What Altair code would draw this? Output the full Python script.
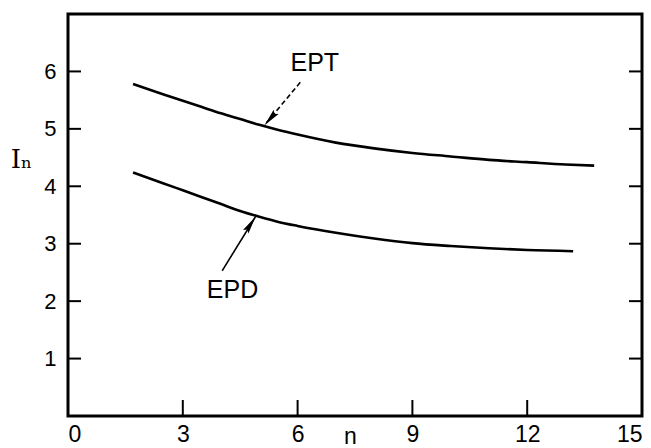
import altair as alt
import pandas as pd

# Data
ept_n = [1.7, 2.5, 3.0, 3.5, 4.0, 4.5, 5.0, 5.5, 6.0, 7.0, 8.0, 9.0, 10.0, 11.0, 12.0, 13.0, 13.75]
ept_i = [5.78, 5.60, 5.49, 5.38, 5.27, 5.17, 5.07, 4.98, 4.90, 4.76, 4.66, 4.58, 4.52, 4.46, 4.42, 4.38, 4.36]
epd_n = [1.7, 2.5, 3.0, 3.5, 4.0, 4.5, 5.0, 5.5, 6.0, 7.0, 8.0, 9.0, 10.0, 11.0, 12.0, 13.2]
epd_i = [4.24, 4.05, 3.93, 3.81, 3.69, 3.57, 3.47, 3.38, 3.31, 3.19, 3.09, 3.01, 2.96, 2.92, 2.89, 2.87]

x_ticks = [0, 3, 6, 9, 12, 15]
y_ticks = [1, 2, 3, 4, 5, 6]
x_inner_ticks = [3, 6, 9, 12]

labels = ["EPT", "EPD"]
label_n = [6.45, 4.3]
label_i = [6.14, 2.2]
arrow_from_n = [6.07, 4.03]
arrow_from_i = [5.81, 2.53]
arrow_to_n = [5.13, 4.9]
arrow_to_i = [5.06, 3.47]
arrow_angle = [221, 33]
arrow_style = ["dashed", "solid"]

W, H = 574, 402

curves = pd.concat([
    pd.DataFrame({"n": ept_n, "I": ept_i, "s": "EPT"}),
    pd.DataFrame({"n": epd_n, "I": epd_i, "s": "EPD"}),
])

xs = alt.Scale(domain=[0, 15], nice=False, zero=False)
ys = alt.Scale(domain=[0, 7], nice=False, zero=False)

base = alt.Chart(curves)

lines = base.mark_line(color="black", strokeWidth=2.6, interpolate="monotone").encode(
    x=alt.X("n:Q", scale=xs, axis=alt.Axis(
        values=x_ticks, format="d", ticks=False, domain=False, grid=False,
        labelFontSize=23, labelFont="Liberation Sans", labelColor="black",
        labelPadding=7, title="n", titleFont="Liberation Sans",
        titleFontSize=23, titleFontWeight="normal", titleColor="black",
        titleBaseline="alphabetic", titleX=282, titleY=27)),
    y=alt.Y("I:Q", scale=ys, axis=alt.Axis(
        values=y_ticks, format="d", ticks=False, domain=False, grid=False,
        labelFontSize=22, labelFont="Liberation Sans", labelColor="black",
        labelPadding=12, title="Iₙ", titleFont="DejaVu Serif",
        titleFontSize=26, titleFontWeight="normal", titleColor="black",
        titleAngle=0, titleBaseline="alphabetic", titleX=-47, titleY=153)),
    detail="s:N",
)

ytick_df = pd.DataFrame({"v": y_ticks})
left_ticks = alt.Chart(ytick_df).mark_rule(color="black", strokeWidth=2).encode(
    y=alt.Y("v:Q", scale=ys), x=alt.value(0), x2=alt.value(13))
right_ticks = alt.Chart(ytick_df).mark_rule(color="black", strokeWidth=2).encode(
    y=alt.Y("v:Q", scale=ys), x=alt.value(W - 13), x2=alt.value(W))
xtick_df = pd.DataFrame({"v": x_inner_ticks})
bottom_ticks = alt.Chart(xtick_df).mark_rule(color="black", strokeWidth=2).encode(
    x=alt.X("v:Q", scale=xs), y=alt.value(H - 16), y2=alt.value(H))

ann = pd.DataFrame({
    "label": labels, "ln": label_n, "li": label_i,
    "fn": arrow_from_n, "fi": arrow_from_i,
    "tn": arrow_to_n, "ti": arrow_to_i, "ang": arrow_angle,
    "style": arrow_style,
})
texts = alt.Chart(ann).mark_text(fontSize=25, font="Liberation Sans",
                                 color="black").encode(
    x=alt.X("ln:Q", scale=xs), y=alt.Y("li:Q", scale=ys), text="label:N")
shafts = alt.Chart(ann).mark_rule(color="black", strokeWidth=1.6).encode(
    x=alt.X("fn:Q", scale=xs), y=alt.Y("fi:Q", scale=ys),
    x2="tn:Q", y2="ti:Q",
    strokeDash=alt.StrokeDash("style:N", legend=None, scale=alt.Scale(
        domain=["dashed", "solid"], range=[[5, 3], [1, 0]])))
heads = alt.Chart(ann).mark_point(shape="M0,0L0.36,2L0,1.7L-0.36,2Z", filled=True,
                                  color="black", size=324, opacity=1,
                                  strokeWidth=0).encode(
    x=alt.X("tn:Q", scale=xs), y=alt.Y("ti:Q", scale=ys),
    angle=alt.Angle("ang:Q", scale=None))

chart = alt.layer(lines, left_ticks, right_ticks, bottom_ticks, shafts, heads, texts).properties(
    width=W, height=H,
    autosize=alt.AutoSizeParams(type="none"),
    padding={"left": 68, "top": 14, "right": 9, "bottom": 32},
    background="white",
).configure_view(stroke="black", strokeWidth=3)

chart.save("out.html", embed_options={"renderer": "svg", "actions": False})
